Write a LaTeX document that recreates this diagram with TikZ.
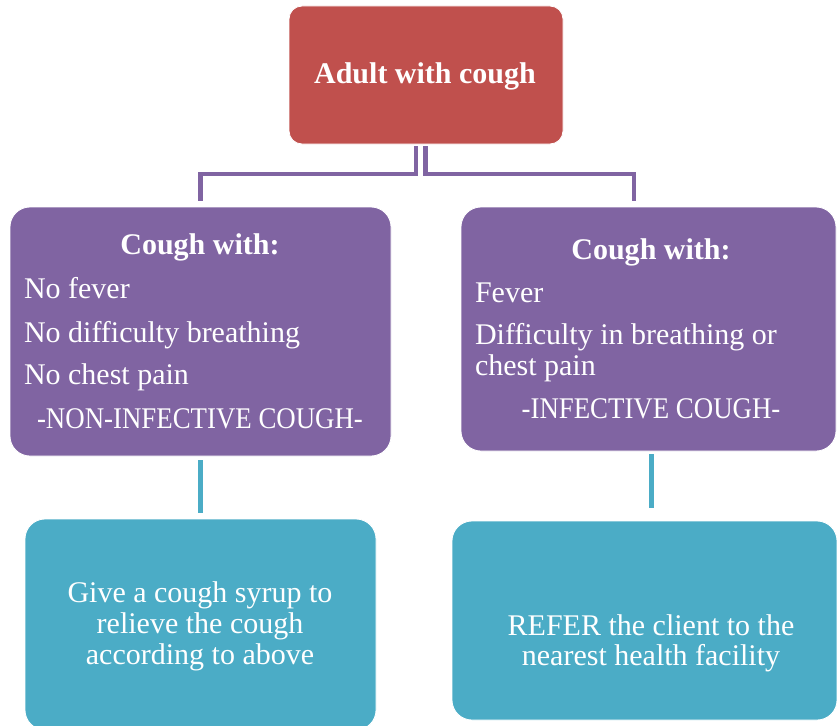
\documentclass[tikz,border=0pt]{standalone}
\usepackage{graphicx}
\usepackage{fontspec}
\setmainfont{Liberation Serif}
\begin{document}
\begin{tikzpicture}[x=1pt,y=-1pt,
  box/.style={inner sep=0pt, outer sep=0pt, anchor=north west, draw=white, line width=0.8pt},
  redbox/.style={box, fill=cred, rounded corners=13pt},
  purbox/.style={box, fill=cpur, rounded corners=20pt},
  tealbox/.style={box, fill=cteal, rounded corners=20pt},
  txt/.style={inner sep=0pt, outer sep=0pt, text=white, font=\fontsize{30}{31}\selectfont},
  btxt/.style={txt, font=\fontsize{30}{31}\selectfont\bfseries},
  pline/.style={draw=cpur, line width=4.5pt},
  tline/.style={draw=cteal, line width=5pt}]
\definecolor{cred}{HTML}{C0504D}
\definecolor{cpur}{HTML}{8064A2}
\definecolor{cteal}{HTML}{4BACC6}
\clip (0,0) rectangle (837,725);

% boxes
\node[redbox, minimum width=274pt, minimum height=138pt] (top) at (289,6) {};
\node[purbox, minimum width=381pt, minimum height=249pt] (lp) at (10,207) {};
\node[purbox, minimum width=375pt, minimum height=244pt] (rp) at (461,207) {};
\node[tealbox, minimum width=351pt, minimum height=211pt] (lt) at (25,519) {};
\node[tealbox, minimum width=385pt, minimum height=199pt] (rt) at (452,521) {};

% connectors
\draw[pline] ([xshift=-10pt,yshift=-2pt]top.south) -- ++(0,28) -| ([yshift=6pt]lp.north);
\draw[pline] ([xshift=-0.5pt,yshift=-2pt]top.south) -- ++(0,28) -| ([xshift=-14.5pt,yshift=6pt]rp.north);
\draw[tline] ([yshift=-4pt]lp.south) -- ([yshift=6pt]lt.north);
\draw[tline] ([xshift=2.5pt,yshift=-3pt]rp.south) -- ([xshift=6.5pt,yshift=13pt]rt.north);

% texts
\node[btxt, anchor=base] (ttop) at (425,83) {Adult with cough};

\node[btxt, anchor=base] (lh) at (200,254) {Cough with:};
\node[txt, anchor=base west] (l1) at (24,298) {No fever};
\node[txt, anchor=base west] (l2) at (24,342) {No difficulty breathing};
\node[txt, anchor=base west] (l3) at (24,384) {No chest pain};
\node[txt, anchor=base] (l4) at (200,428) {\scalebox{0.895}[1]{-NON-INFECTIVE COUGH-}};

\node[btxt, anchor=base] (rh) at (651,259) {Cough with:};
\node[txt, anchor=base west] (r1) at (475,302) {Fever};
\node[txt, anchor=base west] (r2) at (475,344) {Difficulty in breathing or};
\node[txt, anchor=base west] (r3) at (475,375) {chest pain};
\node[txt, anchor=base] (r4) at (651,418) {\scalebox{0.895}[1]{-INFECTIVE COUGH-}};

\node[txt, anchor=base] (lt1) at (200,602) {Give a cough syrup to};
\node[txt, anchor=base] (lt2) at (200,633) {relieve the cough};
\node[txt, anchor=base] (lt3) at (200,664) {according to above};

\node[txt, anchor=base] (rt1) at (651,635) {REFER the client to the};
\node[txt, anchor=base] (rt2) at (651,665) {nearest health facility};
\end{tikzpicture}
\end{document}
